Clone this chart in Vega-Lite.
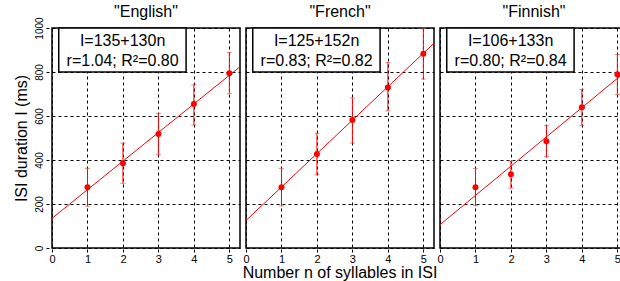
{
  "$schema": "https://vega.github.io/schema/vega-lite/v6.json",
  "padding": {"left": 13, "top": 4, "right": 2, "bottom": 0},
  "config": {
    "font": "Liberation Sans",
    "view": {"stroke": "black", "strokeWidth": 1.5},
    "axisX": {
      "values": [0, 1, 2, 3, 4, 5],
      "grid": true, "gridDash": [3, 3], "gridColor": "black", "gridOpacity": 1, "gridWidth": 1,
      "labelFontSize": 11, "labelColor": "black", "tickColor": "black", "tickSize": 3,
      "domain": false, "labelAngle": 0, "labelPadding": 1, "labelFlush": false
    },
    "axisY": {
      "values": [0, 200, 400, 600, 800, 1000], "format": "d",
      "grid": true, "gridDash": [3, 3], "gridColor": "black", "gridOpacity": 1, "gridWidth": 1,
      "labelFontSize": 10, "labelColor": "black", "tickColor": "black", "tickSize": 3,
      "domain": false, "labelAngle": -90, "labelPadding": 2,
      "titleFontSize": 16, "titleFontWeight": "normal", "titleColor": "black", "titlePadding": 5
    }
  },
  "data": {
    "values": [
      {"kind": "pt", "lang": "\"English\"", "n": 1, "mean": 276, "lo": 190, "hi": 362},
      {"kind": "pt", "lang": "\"English\"", "n": 2, "mean": 385, "lo": 294, "hi": 477},
      {"kind": "pt", "lang": "\"English\"", "n": 3, "mean": 518, "lo": 424, "hi": 612},
      {"kind": "pt", "lang": "\"English\"", "n": 4, "mean": 655, "lo": 559, "hi": 742},
      {"kind": "pt", "lang": "\"English\"", "n": 5, "mean": 794, "lo": 701, "hi": 889},
      {"kind": "pt", "lang": "\"French\"", "n": 1, "mean": 276, "lo": 191, "hi": 362},
      {"kind": "pt", "lang": "\"French\"", "n": 2, "mean": 427, "lo": 333, "hi": 521},
      {"kind": "pt", "lang": "\"French\"", "n": 3, "mean": 582, "lo": 477, "hi": 682},
      {"kind": "pt", "lang": "\"French\"", "n": 4, "mean": 730, "lo": 623, "hi": 843},
      {"kind": "pt", "lang": "\"French\"", "n": 5, "mean": 883, "lo": 768, "hi": 999},
      {"kind": "pt", "lang": "\"Finnish\"", "n": 1, "mean": 276, "lo": 192, "hi": 362},
      {"kind": "pt", "lang": "\"Finnish\"", "n": 2, "mean": 335, "lo": 272, "hi": 395},
      {"kind": "pt", "lang": "\"Finnish\"", "n": 3, "mean": 485, "lo": 415, "hi": 556},
      {"kind": "pt", "lang": "\"Finnish\"", "n": 4, "mean": 640, "lo": 556, "hi": 721},
      {"kind": "pt", "lang": "\"Finnish\"", "n": 5, "mean": 790, "lo": 697, "hi": 879},
      {"kind": "fit", "lang": "\"English\"", "n": 0, "I": 135},
      {"kind": "fit", "lang": "\"English\"", "n": 5.3, "I": 824},
      {"kind": "fit", "lang": "\"French\"", "n": 0, "I": 125},
      {"kind": "fit", "lang": "\"French\"", "n": 5.3, "I": 931},
      {"kind": "fit", "lang": "\"Finnish\"", "n": 0, "I": 106},
      {"kind": "fit", "lang": "\"Finnish\"", "n": 5.3, "I": 811},
      {"kind": "label", "lang": "\"English\"", "eq": "I=135+130n", "stats": "r=1.04; R²=0.80"},
      {"kind": "label", "lang": "\"French\"", "eq": "I=125+152n", "stats": "r=0.83; R²=0.82"},
      {"kind": "label", "lang": "\"Finnish\"", "eq": "I=106+133n", "stats": "r=0.80; R²=0.84"}
    ]
  },
  "facet": {
    "column": {
      "field": "lang", "type": "nominal",
      "sort": ["\"English\"", "\"French\"", "\"Finnish\""],
      "title": "Number n of syllables in ISI",
      "header": {
        "labelOrient": "top", "titleOrient": "bottom",
        "labelFontSize": 16, "labelColor": "black", "labelPadding": 6,
        "titleFontSize": 16, "titleFontWeight": "normal", "titleColor": "black", "titlePadding": -9
      }
    }
  },
  "spacing": 0,
  "spec": {
    "width": 188,
    "height": 220,
    "layer": [
      {
        "transform": [{"filter": "datum.kind == 'fit'"}],
        "mark": {"type": "line", "color": "#ff0000", "strokeWidth": 1},
        "encoding": {
          "x": {"field": "n", "type": "quantitative", "scale": {"domain": [0, 5.3], "nice": false, "zero": false}, "axis": {"title": null}},
          "y": {"field": "I", "type": "quantitative", "scale": {"domain": [0, 1000], "nice": false}, "axis": {"title": "ISI duration I (ms)"}}
        }
      },
      {
        "transform": [{"filter": "datum.kind == 'pt'"}],
        "mark": {"type": "rule", "color": "#ff0000", "strokeWidth": 1},
        "encoding": {
          "x": {"field": "n", "type": "quantitative"},
          "y": {"field": "lo", "type": "quantitative"},
          "y2": {"field": "hi"}
        }
      },
      {
        "transform": [{"filter": "datum.kind == 'pt'"}],
        "mark": {"type": "tick", "orient": "horizontal", "color": "#ff4444", "size": 5, "thickness": 1},
        "encoding": {
          "x": {"field": "n", "type": "quantitative"},
          "y": {"field": "lo", "type": "quantitative"}
        }
      },
      {
        "transform": [{"filter": "datum.kind == 'pt'"}],
        "mark": {"type": "tick", "orient": "horizontal", "color": "#ff4444", "size": 5, "thickness": 1},
        "encoding": {
          "x": {"field": "n", "type": "quantitative"},
          "y": {"field": "hi", "type": "quantitative"}
        }
      },
      {
        "transform": [{"filter": "datum.kind == 'pt'"}],
        "mark": {"type": "circle", "color": "#ff0000", "opacity": 1, "size": 36},
        "encoding": {
          "x": {"field": "n", "type": "quantitative"},
          "y": {"field": "mean", "type": "quantitative"}
        }
      },
      {
        "transform": [{"filter": "datum.kind == 'label'"}],
        "mark": {"type": "rect", "fill": "white", "stroke": "black", "strokeWidth": 1.5},
        "encoding": {
          "x": {"datum": 0.19, "type": "quantitative"},
          "x2": {"datum": 3.78},
          "y": {"datum": 800, "type": "quantitative"},
          "y2": {"datum": 1000}
        }
      },
      {
        "transform": [{"filter": "datum.kind == 'label'"}],
        "mark": {"type": "text", "fontSize": 16, "color": "black", "baseline": "alphabetic", "align": "center"},
        "encoding": {
          "x": {"datum": 1.99, "type": "quantitative"},
          "y": {"datum": 918, "type": "quantitative"},
          "text": {"field": "eq"}
        }
      },
      {
        "transform": [{"filter": "datum.kind == 'label'"}],
        "mark": {"type": "text", "fontSize": 16, "color": "black", "baseline": "alphabetic", "align": "center"},
        "encoding": {
          "x": {"datum": 1.99, "type": "quantitative"},
          "y": {"datum": 827, "type": "quantitative"},
          "text": {"field": "stats"}
        }
      }
    ]
  }
}
